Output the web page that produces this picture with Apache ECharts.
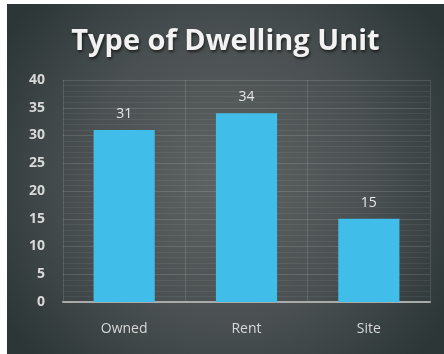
<!DOCTYPE html>
<html>
<head>
<meta charset="utf-8">
<script src="https://cdn.jsdelivr.net/npm/echarts@6/dist/echarts.min.js"></script>
<style>
  html, body { margin: 0; padding: 0; background: #ffffff; }
  #chart { position: absolute; left: 7px; top: 4px; width: 437px; height: 350px; }
</style>
</head>
<body>
<div id="chart"></div>
<script>
// Dwelling unit counts by tenure type
const categories = ['Owned', 'Rent', 'Site'];
const counts = [31, 34, 15];
const yTicks = [0, 5, 10, 15, 20, 25, 30, 35, 40];

const chart = echarts.init(document.getElementById('chart'), null, { renderer: 'canvas' });

chart.setOption({
  backgroundColor: {
    type: 'radial', x: 0.5, y: 0.5, r: 0.75,
    colorStops: [
      { offset: 0, color: '#5e6364' },
      { offset: 0.55, color: '#4a5051' },
      { offset: 1, color: '#2c3637' }
    ]
  },
  title: {
    text: 'Type of Dwelling Unit',
    left: 'center',
    top: 18,
    textStyle: {
      color: '#f2f2f2',
      fontFamily: 'Open Sans',
      fontWeight: 'bold',
      fontSize: 29,
      textShadowColor: 'rgba(0,0,0,0.6)',
      textShadowBlur: 3,
      textShadowOffsetX: 1,
      textShadowOffsetY: 2
    }
  },
  grid: { left: 56, right: 14, top: 76, bottom: 52 },
  xAxis: {
    type: 'category',
    data: categories,
    axisTick: { show: false },
    axisLine: { lineStyle: { color: '#a9abab', width: 2 } },
    axisLabel: {
      color: '#d8d8d8',
      fontFamily: 'Open Sans',
      fontSize: 14,
      margin: 20
    },
    splitLine: { show: true, lineStyle: { color: 'rgba(255,255,255,0.12)', width: 1 } }
  },
  yAxis: {
    type: 'value',
    min: yTicks[0],
    max: yTicks[yTicks.length - 1],
    interval: 5,
    axisLine: { show: false },
    axisTick: { show: false },
    axisLabel: {
      color: '#d8d8d8',
      fontFamily: 'Open Sans',
      fontWeight: 'bold',
      fontSize: 14,
      margin: 18
    },
    splitLine: { lineStyle: { color: 'rgba(255,255,255,0.13)', width: 1 } },
    minorTick: { show: false, splitNumber: 5 },
    minorSplitLine: { show: true, lineStyle: { color: 'rgba(255,255,255,0.06)', width: 1 } }
  },
  series: [{
    type: 'bar',
    data: counts,
    barWidth: '50%',
    itemStyle: { color: '#41bde9' },
    label: {
      show: true,
      position: 'top',
      distance: 9,
      color: '#e6e6e6',
      fontFamily: 'Open Sans',
      fontSize: 14
    }
  }]
});
</script>
</body>
</html>
